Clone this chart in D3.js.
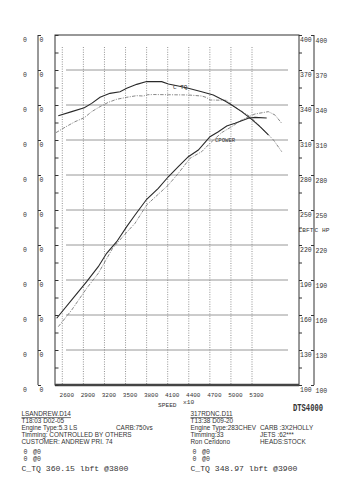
<!DOCTYPE html>
<html>
<head>
<meta charset="utf-8">
<script src="https://cdn.jsdelivr.net/npm/d3@7"></script>
<style>
  body { margin: 0; background: #fff; }
  text { font-family: "Liberation Mono", "DejaVu Sans Mono", monospace; fill: #333; }
  text.info { font-family: "Liberation Sans", "DejaVu Sans", sans-serif; }
</style>
</head>
<body>
<div id="chart"></div>
<script>
// dyno sheet: LS 5.3 run (solid) vs 283 chevy run (dash-dot)

const rpmTicks = [2600, 2900, 3200, 3500, 3800, 4100, 4400, 4700, 5000, 5300];
const valTicks = [100, 130, 160, 190, 220, 250, 280, 310, 340, 370, 400];

const lsTqRpm = [2543, 2734, 2913, 3018, 3137, 3279, 3422, 3517, 3659, 3800, 4015, 4109, 4251, 4394, 4584, 4749, 4916, 5011, 5153, 5296, 5414, 5533];
const lsTq    = [330.8, 334.3, 337.7, 341.4, 346.6, 350.0, 351.4, 354.3, 357.7, 360.15, 360.0, 358.0, 356.3, 354.3, 351.4, 348.6, 343.4, 340.0, 334.3, 327.7, 321.4, 314.3];

const lsHpRpm = [2520, 2734, 2947, 3112, 3231, 3374, 3517, 3635, 3801, 3966, 4109, 4251, 4394, 4536, 4702, 4821, 4940, 5058, 5248, 5343, 5509];
const lsHp    = [157.2, 172.9, 188.6, 201.4, 212.9, 222.8, 235.7, 245.7, 259.2, 268.6, 278.5, 287.1, 295.7, 301.4, 312.8, 317.1, 322.0, 324.3, 328.6, 329.4, 328.9];

const chTqRpm = [2510, 2638, 2781, 2913, 3018, 3137, 3256, 3374, 3517, 3659, 3753, 3815, 3900, 4109, 4394, 4584, 4650, 4702, 4940, 5011, 5274, 5464, 5606, 5723];
const chTq    = [316.3, 320.9, 325.7, 329.1, 334.3, 338.6, 342.3, 344.9, 346.6, 348.0, 347.7, 348.8, 348.97, 348.8, 348.6, 347.7, 346.5, 344.3, 344.0, 340.0, 330.0, 318.6, 310.0, 300.0];

const chHpRpm = [2543, 2734, 2947, 3112, 3316, 3482, 3635, 3801, 3919, 4109, 4251, 4417, 4584, 4702, 4868, 5011, 5153, 5343, 5533, 5628, 5723];
const chHp    = [150.0, 164.3, 182.9, 195.7, 217.2, 228.6, 238.6, 254.3, 260.9, 271.4, 281.4, 294.3, 300.0, 307.2, 316.3, 321.4, 327.1, 332.3, 334.3, 331.4, 324.3];

const leftInfo = ["T18:03 D02-05", "Engine Type:5.3 LS", "Timming: CONTROLLED BY OTHERS", "CUSTOMER: ANDREW PRI. 74"];
const rightInfo = ["T13:38 D09-20", "Engine Type:283CHEV", "Timming:33", "Ron Ceridono"];
const rightInfo2 = ["CARB :3X2HOLLY", "JETS :62***", "HEADS:STOCK"];

const width = 353, height = 495;
const frame = { left: 55, right: 299, top: 35, bottom: 385 };

let svg = d3.select("#chart")
    .append("svg")
    .attr("width", width)
    .attr("height", height);

let x = d3.scaleLinear()
    .domain([2600, 5300])
    .range([62.3, 252]);

let y = d3.scaleLinear()
    .domain([100, 400])
    .range([frame.bottom, frame.top]);

const minor = d3.range(100, 401, 15);

// horizontal grid
svg.append("g")
    .selectAll("line")
    .data(valTicks.slice(1, -1))
    .join("line")
    .attr("x1", 66).attr("x2", 288)
    .attr("y1", d => y(d)).attr("y2", d => y(d))
    .attr("stroke", "#8c8c8c")
    .attr("stroke-width", 0.9);

// vertical dotted grid
svg.append("g")
    .selectAll("line")
    .data(rpmTicks)
    .join("line")
    .attr("x1", d => x(d)).attr("x2", d => x(d))
    .attr("y1", 47).attr("y2", frame.bottom)
    .attr("stroke", "#777")
    .attr("stroke-width", 0.8)
    .attr("stroke-dasharray", "1,1.4");

// frame
svg.append("rect")
    .attr("x", frame.left).attr("y", frame.top)
    .attr("width", frame.right - frame.left)
    .attr("height", frame.bottom - frame.top)
    .attr("fill", "none")
    .attr("stroke", "#333")
    .attr("stroke-width", 1);

svg.append("line")
    .attr("x1", frame.left).attr("x2", frame.right)
    .attr("y1", frame.bottom).attr("y2", frame.bottom)
    .attr("stroke", "#444")
    .attr("stroke-width", 2.6);

function styleAxis(g) {
    g.select(".domain").attr("stroke", "#333");
    g.selectAll(".tick line").attr("stroke", "#333");
    g.selectAll(".tick text")
        .attr("font-size", 6.5)
        .attr("font-family", "Liberation Mono, monospace")
        .attr("fill", "#333");
}

// inward minor ticks on left frame
svg.append("g")
    .attr("transform", `translate(${frame.left},0)`)
    .call(d3.axisRight(y).tickValues(minor).tickSize(3.5).tickFormat(""))
    .call(g => g.select(".domain").remove())
    .call(styleAxis);

// right frame axis (lbft)
svg.append("g")
    .attr("transform", `translate(${frame.right},0)`)
    .call(d3.axisRight(y).tickValues(minor).tickSize(3).tickFormat(""))
    .call(g => g.select(".domain").remove())
    .call(styleAxis);

svg.append("g")
    .attr("transform", `translate(${frame.right},0)`)
    .call(d3.axisRight(y).tickValues(valTicks).tickSize(0).tickPadding(1))
    .call(g => g.select(".domain").remove())
    .call(styleAxis)
    .call(g => g.selectAll(".tick text").attr("dy", "0.95em"));

// outer right axis (hp)
svg.append("g")
    .attr("transform", `translate(314,0)`)
    .call(d3.axisLeft(y).tickValues(valTicks).tickSize(3).tickFormat(""))
    .call(g => g.select(".domain").attr("d", `M0,${frame.top}V${frame.bottom}`))
    .call(styleAxis);

svg.append("g")
    .selectAll("text")
    .data(valTicks)
    .join("text")
    .attr("x", 315.5)
    .attr("y", d => y(d) + 7.5)
    .attr("font-size", 6.5)
    .text(d => d);

// left axes, unused (all zero)
svg.append("g")
    .attr("transform", `translate(38,0)`)
    .call(d3.axisRight(y).tickValues(valTicks).tickSize(3).tickPadding(-1.5).tickFormat(() => "0"))
    .call(g => g.select(".domain").attr("d", `M0,${frame.top}V${frame.bottom}`))
    .call(styleAxis)
    .call(g => g.selectAll(".tick text").attr("dy", "0.95em"));

svg.append("g")
    .selectAll("text")
    .data(valTicks)
    .join("text")
    .attr("x", 25)
    .attr("y", d => y(d) + 7)
    .attr("text-anchor", "middle")
    .attr("font-size", 6.5)
    .text("0");

// bottom rpm labels
svg.append("g")
    .attr("transform", `translate(4,${frame.bottom})`)
    .call(d3.axisBottom(x).tickValues(rpmTicks).tickSize(0).tickPadding(8).tickFormat(d3.format("d")))
    .call(g => g.select(".domain").remove())
    .call(styleAxis)
    .call(g => g.selectAll(".tick text").attr("font-size", 6));

svg.append("text").attr("x", 158).attr("y", 407).attr("font-size", 6.2).text("SPEED");
svg.append("text").attr("x", 183).attr("y", 404).attr("font-size", 6.2).text("x10");
svg.append("text").attr("x", 298.5).attr("y", 232).attr("font-size", 6.2).text("LBFT");
svg.append("text").attr("x", 314.5).attr("y", 232).attr("font-size", 6.2).text("C HP");

svg.append("text")
    .attr("x", 293).attr("y", 410.5)
    .attr("font-size", 10)
    .attr("font-weight", "bold")
    .attr("font-family", "DejaVu Sans Mono, monospace")
    .attr("textLength", 30)
    .attr("lengthAdjust", "spacingAndGlyphs")
    .attr("fill", "#222")
    .text("DTS4000");

// curves
let line = d3.line()
    .x(d => x(d[0]))
    .y(d => y(d[1]));

const series = [
    { rpm: chTqRpm, v: chTq, color: "#7a7a7a", dash: "3.5,1.3,1,1.3", w: 0.9 },
    { rpm: chHpRpm, v: chHp, color: "#7a7a7a", dash: "3.5,1.3,1,1.3", w: 0.9 },
    { rpm: lsTqRpm, v: lsTq, color: "#2a2a2a", dash: null, w: 1.1 },
    { rpm: lsHpRpm, v: lsHp, color: "#2a2a2a", dash: null, w: 1.1 }
];

svg.append("g")
    .selectAll("path")
    .data(series)
    .join("path")
    .attr("d", s => line(d3.zip(s.rpm, s.v)))
    .attr("fill", "none")
    .attr("stroke", s => s.color)
    .attr("stroke-width", s => s.w)
    .attr("stroke-dasharray", s => s.dash);

svg.append("text").attr("x", 173).attr("y", 88.5).attr("font-size", 6).text("C TQ");
svg.append("text").attr("x", 215).attr("y", 141.5).attr("font-size", 5.6).text("CPOWER");

// run info blocks
function infoBlock(x0, title, lines, tq, rpm) {
    let g = svg.append("g");
    let t = g.append("text").attr("class", "info").attr("x", x0).attr("y", 416).attr("font-size", 6.4).text(title);
    g.append("line")
        .attr("x1", x0).attr("x2", x0 + t.node().getComputedTextLength())
        .attr("y1", 417.6).attr("y2", 417.6)
        .attr("stroke", "#333").attr("stroke-width", 0.7);
    lines.forEach((s, i) => {
        g.append("text").attr("class", "info").attr("x", x0).attr("y", 423 + i * 7.1).attr("font-size", 6.4).text(s);
    });
    [0, 1].forEach(i => {
        g.append("text").attr("x", x0 + 2).attr("y", 454 + i * 6.8).attr("font-size", 6.6).text("0");
        g.append("text").attr("x", x0 + 11.5).attr("y", 454 + i * 6.8).attr("font-size", 6.6).text("@0");
    });
    g.append("text").attr("x", x0).attr("y", 471).attr("font-size", 8.1)
        .text(`C_TQ ${tq} lbft @${rpm}`);
    return g;
}

infoBlock(21.5, "LSANDREW.D14", leftInfo, d3.max(lsTq).toFixed(2), 3800);
svg.append("text").attr("class", "info").attr("x", 116).attr("y", 430.1).attr("font-size", 6.4).text("CARB:750vs");

infoBlock(190.5, "317RDNC.D11", rightInfo, d3.max(chTq).toFixed(2), 3900);
svg.selectAll(".info2")
    .data(rightInfo2)
    .join("text")
    .attr("class", "info")
    .attr("x", 260)
    .attr("y", (d, i) => 430.1 + i * 7.1)
    .attr("font-size", 6.4)
    .text(d => d);
</script>
</body>
</html>
